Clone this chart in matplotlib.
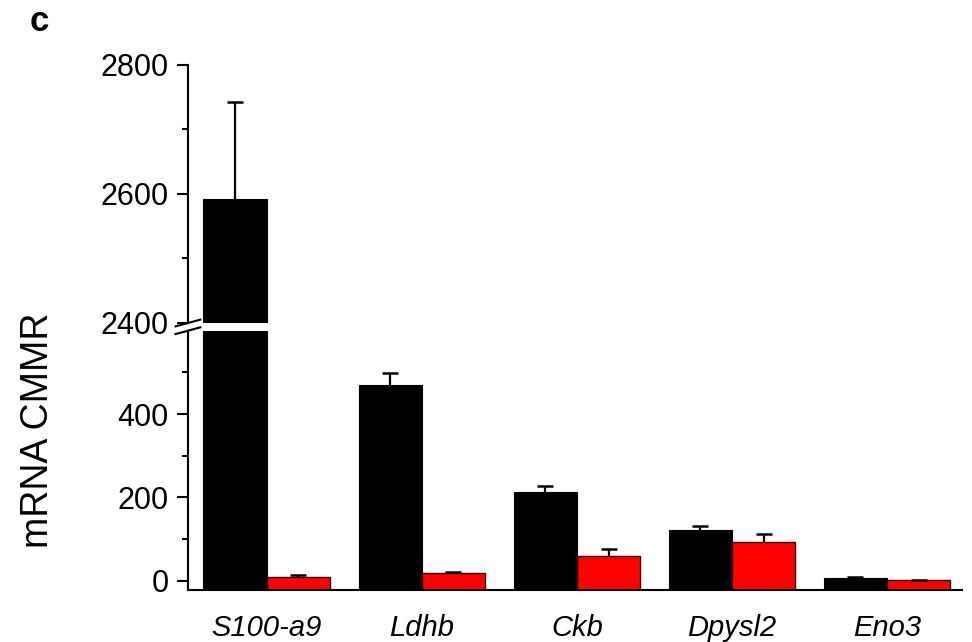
"""Bar chart with broken y-axis: mRNA CMMR per gene."""

import numpy as np
import matplotlib
matplotlib.use("Agg")
from matplotlib import pyplot as plt
from matplotlib.ticker import MultipleLocator

plt.rcParams["font.family"] = ["Liberation Sans", "DejaVu Sans"]

GENES = ["S100-a9", "Ldhb", "Ckb", "Dpysl2", "Eno3"]
BLACK_VALUES = [2592, 470, 212, 123, 7]
BLACK_ERRORS = [150, 28, 16, 8, 1]
RED_VALUES = [9, 19, 59, 93, 1]
RED_ERRORS = [5, 3, 18, 20, 2]

LOWER_LIM = (-22, 600)
UPPER_LIM = (2400, 2800)
BAR_WIDTH = 0.408

fig = plt.figure(figsize=(9.72, 6.42), dpi=100)
ax_top = fig.add_axes([0.1934, 0.4969, 0.7966, 0.4019])
ax_bot = fig.add_axes([0.1934, 0.0810, 0.7966, 0.4039])

x = np.arange(len(GENES))
err_kw = dict(fmt="none", ecolor="black", elinewidth=1.6, capsize=6, capthick=1.8)


def upper_errorbar(ax, xs, values, errors):
    # only the upper half of the error bar, no cap on the bar itself
    _, caps, _ = ax.errorbar(xs, values, yerr=[np.zeros(len(xs)), errors], **err_kw)
    caps[0].set_visible(False)


for ax in (ax_top, ax_bot):
    base = LOWER_LIM[0]
    ax.bar(x - BAR_WIDTH / 2, np.array(BLACK_VALUES) - base, BAR_WIDTH, bottom=base,
           color="black", edgecolor="black", linewidth=0.8)
    ax.bar(x + BAR_WIDTH / 2, np.array(RED_VALUES) - base, BAR_WIDTH, bottom=base,
           color="#ff0000", edgecolor="#3a0000", linewidth=1.0)
    upper_errorbar(ax, x - BAR_WIDTH / 2, BLACK_VALUES, BLACK_ERRORS)
    upper_errorbar(ax, x + BAR_WIDTH / 2, RED_VALUES, RED_ERRORS)
    ax.set_xlim(-0.508, 4.485)
    ax.spines["right"].set_visible(False)
    for s in ax.spines.values():
        s.set_linewidth(1.5)
    ax.tick_params(axis="y", which="major", length=8, width=1.5, labelsize=22, pad=6)
    ax.tick_params(axis="y", which="minor", length=4.5, width=1.5)

ax_top.set_ylim(*UPPER_LIM)
ax_top.spines["top"].set_visible(False)
ax_top.spines["bottom"].set_visible(False)
ax_top.set_xticks([])
ax_top.yaxis.set_major_locator(MultipleLocator(200))
ax_top.yaxis.set_minor_locator(MultipleLocator(100))

ax_bot.set_ylim(*LOWER_LIM)
ax_bot.spines["top"].set_visible(False)
ax_bot.set_yticks([0, 200, 400])
ax_bot.set_yticks([100, 300, 500], minor=True)
ax_bot.set_xticks(x)
ax_bot.set_xticklabels(GENES, fontstyle="italic", fontsize=21)
ax_bot.tick_params(axis="x", length=0, pad=17)

# break marks on the left spine
dx, dy = 0.016, 0.013
ax_top.plot([-dx, dx], [-dy, dy], transform=ax_top.transAxes, color="black",
            linewidth=1.5, clip_on=False)
ax_bot.plot([-dx, dx], [1 - dy, 1 + dy], transform=ax_bot.transAxes, color="black",
            linewidth=1.5, clip_on=False)

fig.text(0.039, 0.33, "mRNA CMMR", rotation=90, fontsize=27, ha="center", va="center")
fig.text(0.040, 0.966, "c", fontsize=25, fontweight="bold", ha="center", va="center")

fig.savefig("out.png", dpi=100)
